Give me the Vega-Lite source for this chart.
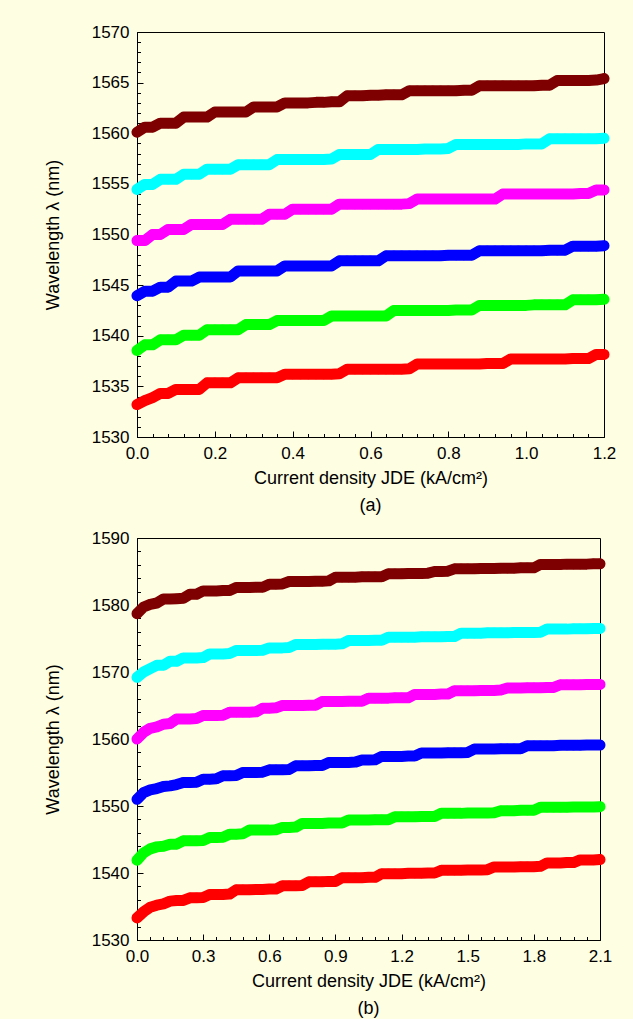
{
"$schema": "https://vega.github.io/schema/vega-lite/v6.json",
"background": "#FEFEE2",
"padding": {"left": 43, "top": 22, "right": 16, "bottom": 4},
"spacing": 12,
"config": {
  "font": "Liberation Sans",
  "view": {"stroke": "#000000", "strokeWidth": 1},
  "axis": {"labelFont": "Liberation Sans", "titleFont": "Liberation Sans", "labelFontSize": 17, "titleFontSize": 18, "titleFontWeight": "normal", "labelColor": "#000000", "titleColor": "#000000", "domainColor": "#000000", "tickColor": "#000000", "gridColor": "#B4B4B4", "gridDash": [2, 3], "gridWidth": 1, "labelFlush": false},
  "title": {"font": "Liberation Sans", "fontSize": 18, "fontWeight": "normal", "color": "#000000"}
},
"datasets": {
"a": [
{"x":0,"r":1533.2,"g":1538.55,"b":1543.95,"p":1549.4,"c":1554.45,"m":1560.1},
{"x":0.02,"r":1533.6,"g":1539.1,"b":1544.4,"p":1549.4,"c":1554.95,"m":1560.6},
{"x":0.04,"r":1533.9,"g":1539.1,"b":1544.4,"p":1550.0,"c":1554.95,"m":1560.6},
{"x":0.06,"r":1534.3,"g":1539.6,"b":1544.8,"p":1550.0,"c":1555.45,"m":1561.0},
{"x":0.08,"r":1534.3,"g":1539.6,"b":1544.8,"p":1550.5,"c":1555.45,"m":1561.0},
{"x":0.10,"r":1534.7,"g":1539.6,"b":1545.4,"p":1550.5,"c":1555.45,"m":1561.0},
{"x":0.12,"r":1534.7,"g":1540.05,"b":1545.4,"p":1550.5,"c":1555.95,"m":1561.6},
{"x":0.14,"r":1534.7,"g":1540.05,"b":1545.4,"p":1551.0,"c":1555.95,"m":1561.6},
{"x":0.16,"r":1534.7,"g":1540.05,"b":1545.8,"p":1551.0,"c":1555.95,"m":1561.6},
{"x":0.18,"r":1535.35,"g":1540.6,"b":1545.8,"p":1551.0,"c":1556.45,"m":1561.6},
{"x":0.20,"r":1535.35,"g":1540.6,"b":1545.8,"p":1551.0,"c":1556.45,"m":1562.1},
{"x":0.22,"r":1535.35,"g":1540.6,"b":1545.8,"p":1551.0,"c":1556.45,"m":1562.1},
{"x":0.24,"r":1535.35,"g":1540.6,"b":1545.8,"p":1551.5,"c":1556.45,"m":1562.1},
{"x":0.26,"r":1535.85,"g":1540.6,"b":1546.4,"p":1551.5,"c":1556.9,"m":1562.1},
{"x":0.28,"r":1535.85,"g":1541.1,"b":1546.4,"p":1551.5,"c":1556.9,"m":1562.1},
{"x":0.30,"r":1535.85,"g":1541.1,"b":1546.4,"p":1551.5,"c":1556.9,"m":1562.6},
{"x":0.32,"r":1535.85,"g":1541.1,"b":1546.4,"p":1551.5,"c":1556.9,"m":1562.6},
{"x":0.34,"r":1535.85,"g":1541.1,"b":1546.4,"p":1552.0,"c":1556.9,"m":1562.6},
{"x":0.36,"r":1535.85,"g":1541.5,"b":1546.4,"p":1552.0,"c":1557.4,"m":1562.6},
{"x":0.38,"r":1536.2,"g":1541.5,"b":1546.9,"p":1552.0,"c":1557.4,"m":1563.0},
{"x":0.40,"r":1536.2,"g":1541.5,"b":1546.9,"p":1552.5,"c":1557.4,"m":1563.0},
{"x":0.42,"r":1536.2,"g":1541.5,"b":1546.9,"p":1552.5,"c":1557.4,"m":1563.0},
{"x":0.44,"r":1536.2,"g":1541.5,"b":1546.9,"p":1552.5,"c":1557.4,"m":1563.0},
{"x":0.46,"r":1536.2,"g":1541.5,"b":1546.9,"p":1552.5,"c":1557.4,"m":1563.05},
{"x":0.48,"r":1536.2,"g":1541.5,"b":1546.9,"p":1552.5,"c":1557.4,"m":1563.05},
{"x":0.50,"r":1536.2,"g":1541.95,"b":1546.9,"p":1552.5,"c":1557.45,"m":1563.1},
{"x":0.52,"r":1536.25,"g":1541.95,"b":1547.4,"p":1553.0,"c":1557.9,"m":1563.1},
{"x":0.54,"r":1536.7,"g":1541.95,"b":1547.4,"p":1553.0,"c":1557.9,"m":1563.7},
{"x":0.56,"r":1536.7,"g":1541.95,"b":1547.4,"p":1553.0,"c":1557.9,"m":1563.7},
{"x":0.58,"r":1536.7,"g":1541.95,"b":1547.4,"p":1553.0,"c":1557.9,"m":1563.7},
{"x":0.60,"r":1536.7,"g":1541.95,"b":1547.4,"p":1553.0,"c":1557.9,"m":1563.75},
{"x":0.62,"r":1536.7,"g":1541.95,"b":1547.4,"p":1553.0,"c":1558.4,"m":1563.75},
{"x":0.64,"r":1536.7,"g":1541.95,"b":1547.9,"p":1553.0,"c":1558.4,"m":1563.8},
{"x":0.66,"r":1536.7,"g":1542.5,"b":1547.9,"p":1553.0,"c":1558.4,"m":1563.8},
{"x":0.68,"r":1536.7,"g":1542.5,"b":1547.9,"p":1553.0,"c":1558.4,"m":1563.8},
{"x":0.70,"r":1536.75,"g":1542.5,"b":1547.9,"p":1553.05,"c":1558.4,"m":1564.2},
{"x":0.72,"r":1537.2,"g":1542.5,"b":1547.9,"p":1553.5,"c":1558.4,"m":1564.2},
{"x":0.74,"r":1537.2,"g":1542.5,"b":1547.9,"p":1553.5,"c":1558.45,"m":1564.2},
{"x":0.76,"r":1537.2,"g":1542.5,"b":1547.9,"p":1553.5,"c":1558.45,"m":1564.2},
{"x":0.78,"r":1537.2,"g":1542.5,"b":1547.9,"p":1553.5,"c":1558.45,"m":1564.2},
{"x":0.80,"r":1537.2,"g":1542.5,"b":1547.95,"p":1553.5,"c":1558.5,"m":1564.2},
{"x":0.82,"r":1537.2,"g":1542.55,"b":1547.95,"p":1553.5,"c":1558.9,"m":1564.2},
{"x":0.84,"r":1537.2,"g":1542.55,"b":1547.95,"p":1553.5,"c":1558.9,"m":1564.25},
{"x":0.86,"r":1537.2,"g":1542.55,"b":1547.95,"p":1553.5,"c":1558.9,"m":1564.25},
{"x":0.88,"r":1537.2,"g":1543.0,"b":1548.4,"p":1553.5,"c":1558.9,"m":1564.7},
{"x":0.90,"r":1537.25,"g":1543.0,"b":1548.4,"p":1553.5,"c":1558.9,"m":1564.7},
{"x":0.92,"r":1537.25,"g":1543.0,"b":1548.4,"p":1553.5,"c":1558.9,"m":1564.7},
{"x":0.94,"r":1537.25,"g":1543.0,"b":1548.4,"p":1554.0,"c":1558.9,"m":1564.7},
{"x":0.96,"r":1537.7,"g":1543.0,"b":1548.4,"p":1554.0,"c":1558.9,"m":1564.7},
{"x":0.98,"r":1537.7,"g":1543.0,"b":1548.4,"p":1554.0,"c":1558.9,"m":1564.7},
{"x":1.00,"r":1537.7,"g":1543.0,"b":1548.4,"p":1554.0,"c":1558.95,"m":1564.7},
{"x":1.02,"r":1537.7,"g":1543.05,"b":1548.4,"p":1554.0,"c":1558.95,"m":1564.7},
{"x":1.04,"r":1537.7,"g":1543.05,"b":1548.4,"p":1554.0,"c":1558.95,"m":1564.75},
{"x":1.06,"r":1537.7,"g":1543.05,"b":1548.45,"p":1554.0,"c":1559.45,"m":1564.75},
{"x":1.08,"r":1537.7,"g":1543.05,"b":1548.45,"p":1554.0,"c":1559.45,"m":1565.2},
{"x":1.10,"r":1537.7,"g":1543.05,"b":1548.45,"p":1554.0,"c":1559.45,"m":1565.2},
{"x":1.12,"r":1537.75,"g":1543.55,"b":1548.85,"p":1554.0,"c":1559.45,"m":1565.2},
{"x":1.14,"r":1537.75,"g":1543.55,"b":1548.85,"p":1554.05,"c":1559.45,"m":1565.2},
{"x":1.16,"r":1537.75,"g":1543.55,"b":1548.85,"p":1554.05,"c":1559.45,"m":1565.2},
{"x":1.18,"r":1538.15,"g":1543.55,"b":1548.85,"p":1554.4,"c":1559.45,"m":1565.25},
{"x":1.20,"r":1538.15,"g":1543.6,"b":1548.9,"p":1554.4,"c":1559.5,"m":1565.4}
],
"b": [
{"x":0,"r":1533.3,"g":1541.9,"b":1551.0,"p":1560.0,"c":1569.2,"m":1578.7},
{"x":0.03,"r":1534.2,"g":1543.0,"b":1552.0,"p":1561.0,"c":1570.0,"m":1579.7},
{"x":0.06,"r":1534.9,"g":1543.6,"b":1552.4,"p":1561.6,"c":1570.5,"m":1580.1},
{"x":0.09,"r":1535.2,"g":1543.9,"b":1552.6,"p":1561.8,"c":1571.0,"m":1580.3},
{"x":0.12,"r":1535.4,"g":1544.0,"b":1552.9,"p":1562.2,"c":1571.0,"m":1580.9},
{"x":0.15,"r":1535.8,"g":1544.3,"b":1553.0,"p":1562.3,"c":1571.6,"m":1580.9},
{"x":0.18,"r":1535.9,"g":1544.3,"b":1553.2,"p":1563.0,"c":1571.6,"m":1580.95},
{"x":0.21,"r":1535.9,"g":1544.8,"b":1553.5,"p":1563.0,"c":1572.1,"m":1581.0},
{"x":0.24,"r":1536.3,"g":1544.8,"b":1553.5,"p":1563.0,"c":1572.1,"m":1581.6},
{"x":0.27,"r":1536.3,"g":1544.8,"b":1553.55,"p":1563.05,"c":1572.1,"m":1581.6},
{"x":0.30,"r":1536.35,"g":1544.85,"b":1554.0,"p":1563.5,"c":1572.15,"m":1582.1},
{"x":0.33,"r":1536.8,"g":1545.3,"b":1554.0,"p":1563.5,"c":1572.7,"m":1582.1},
{"x":0.36,"r":1536.8,"g":1545.3,"b":1554.05,"p":1563.5,"c":1572.7,"m":1582.1},
{"x":0.39,"r":1536.8,"g":1545.35,"b":1554.5,"p":1563.55,"c":1572.7,"m":1582.15},
{"x":0.42,"r":1536.85,"g":1545.8,"b":1554.5,"p":1564.0,"c":1572.75,"m":1582.15},
{"x":0.45,"r":1537.5,"g":1545.8,"b":1554.55,"p":1564.0,"c":1573.2,"m":1582.6},
{"x":0.48,"r":1537.5,"g":1545.85,"b":1555.0,"p":1564.0,"c":1573.2,"m":1582.6},
{"x":0.51,"r":1537.5,"g":1546.4,"b":1555.0,"p":1564.0,"c":1573.2,"m":1582.6},
{"x":0.54,"r":1537.55,"g":1546.4,"b":1555.0,"p":1564.05,"c":1573.2,"m":1582.65},
{"x":0.57,"r":1537.55,"g":1546.4,"b":1555.05,"p":1564.6,"c":1573.25,"m":1582.65},
{"x":0.60,"r":1537.6,"g":1546.4,"b":1555.4,"p":1564.6,"c":1573.6,"m":1583.1},
{"x":0.63,"r":1537.6,"g":1546.45,"b":1555.4,"p":1564.65,"c":1573.6,"m":1583.1},
{"x":0.66,"r":1538.1,"g":1546.8,"b":1555.4,"p":1565.0,"c":1573.6,"m":1583.15},
{"x":0.69,"r":1538.1,"g":1546.8,"b":1555.45,"p":1565.0,"c":1573.65,"m":1583.5},
{"x":0.72,"r":1538.1,"g":1546.85,"b":1556.0,"p":1565.0,"c":1574.1,"m":1583.5},
{"x":0.75,"r":1538.15,"g":1547.4,"b":1556.0,"p":1565.0,"c":1574.1,"m":1583.5},
{"x":0.78,"r":1538.7,"g":1547.4,"b":1556.0,"p":1565.05,"c":1574.1,"m":1583.5},
{"x":0.81,"r":1538.7,"g":1547.4,"b":1556.05,"p":1565.05,"c":1574.1,"m":1583.55},
{"x":0.84,"r":1538.7,"g":1547.4,"b":1556.05,"p":1565.6,"c":1574.15,"m":1583.55},
{"x":0.87,"r":1538.75,"g":1547.45,"b":1556.5,"p":1565.6,"c":1574.15,"m":1583.6},
{"x":0.90,"r":1538.75,"g":1547.45,"b":1556.5,"p":1565.6,"c":1574.15,"m":1584.15},
{"x":0.93,"r":1539.3,"g":1547.45,"b":1556.5,"p":1565.6,"c":1574.2,"m":1584.15},
{"x":0.96,"r":1539.3,"g":1547.9,"b":1556.5,"p":1565.65,"c":1574.7,"m":1584.15},
{"x":0.99,"r":1539.3,"g":1547.9,"b":1556.55,"p":1565.65,"c":1574.7,"m":1584.15},
{"x":1.02,"r":1539.3,"g":1547.9,"b":1556.85,"p":1565.65,"c":1574.7,"m":1584.2},
{"x":1.05,"r":1539.35,"g":1547.9,"b":1556.85,"p":1566.1,"c":1574.7,"m":1584.2},
{"x":1.08,"r":1539.35,"g":1547.95,"b":1556.9,"p":1566.1,"c":1574.75,"m":1584.2},
{"x":1.11,"r":1539.9,"g":1547.95,"b":1557.4,"p":1566.1,"c":1574.75,"m":1584.2},
{"x":1.14,"r":1539.9,"g":1547.95,"b":1557.4,"p":1566.1,"c":1575.2,"m":1584.65},
{"x":1.17,"r":1539.9,"g":1548.4,"b":1557.4,"p":1566.15,"c":1575.2,"m":1584.65},
{"x":1.20,"r":1539.9,"g":1548.4,"b":1557.4,"p":1566.15,"c":1575.2,"m":1584.65},
{"x":1.23,"r":1539.95,"g":1548.4,"b":1557.45,"p":1566.15,"c":1575.2,"m":1584.7},
{"x":1.26,"r":1539.95,"g":1548.4,"b":1557.45,"p":1566.65,"c":1575.2,"m":1584.7},
{"x":1.29,"r":1539.95,"g":1548.45,"b":1557.9,"p":1566.65,"c":1575.25,"m":1584.7},
{"x":1.32,"r":1540.0,"g":1548.45,"b":1557.9,"p":1566.65,"c":1575.25,"m":1584.75},
{"x":1.35,"r":1540.0,"g":1548.45,"b":1557.9,"p":1566.65,"c":1575.25,"m":1585.0},
{"x":1.38,"r":1540.4,"g":1548.9,"b":1557.9,"p":1566.7,"c":1575.25,"m":1585.0},
{"x":1.41,"r":1540.4,"g":1548.9,"b":1557.95,"p":1566.7,"c":1575.3,"m":1585.05},
{"x":1.44,"r":1540.4,"g":1548.9,"b":1557.95,"p":1567.2,"c":1575.3,"m":1585.4},
{"x":1.47,"r":1540.4,"g":1548.9,"b":1557.95,"p":1567.2,"c":1575.8,"m":1585.4},
{"x":1.50,"r":1540.45,"g":1548.95,"b":1558.0,"p":1567.2,"c":1575.8,"m":1585.4},
{"x":1.53,"r":1540.45,"g":1548.95,"b":1558.5,"p":1567.2,"c":1575.8,"m":1585.4},
{"x":1.56,"r":1540.45,"g":1548.95,"b":1558.5,"p":1567.25,"c":1575.8,"m":1585.45},
{"x":1.59,"r":1540.5,"g":1548.95,"b":1558.5,"p":1567.25,"c":1575.85,"m":1585.45},
{"x":1.62,"r":1540.9,"g":1549.0,"b":1558.5,"p":1567.25,"c":1575.85,"m":1585.45},
{"x":1.65,"r":1540.9,"g":1549.3,"b":1558.55,"p":1567.3,"c":1575.85,"m":1585.5},
{"x":1.68,"r":1540.9,"g":1549.3,"b":1558.55,"p":1567.6,"c":1575.85,"m":1585.5},
{"x":1.71,"r":1540.9,"g":1549.3,"b":1558.55,"p":1567.6,"c":1575.9,"m":1585.5},
{"x":1.74,"r":1540.95,"g":1549.35,"b":1558.55,"p":1567.6,"c":1575.9,"m":1585.55},
{"x":1.77,"r":1540.95,"g":1549.35,"b":1559.0,"p":1567.65,"c":1575.9,"m":1585.55},
{"x":1.80,"r":1540.95,"g":1549.35,"b":1559.0,"p":1567.65,"c":1575.9,"m":1585.55},
{"x":1.83,"r":1541.0,"g":1549.8,"b":1559.0,"p":1567.65,"c":1575.95,"m":1586.05},
{"x":1.86,"r":1541.5,"g":1549.8,"b":1559.0,"p":1567.7,"c":1576.4,"m":1586.05},
{"x":1.89,"r":1541.5,"g":1549.8,"b":1559.0,"p":1567.7,"c":1576.4,"m":1586.05},
{"x":1.92,"r":1541.5,"g":1549.8,"b":1559.05,"p":1568.1,"c":1576.4,"m":1586.05},
{"x":1.95,"r":1541.55,"g":1549.8,"b":1559.05,"p":1568.1,"c":1576.4,"m":1586.1},
{"x":1.98,"r":1541.55,"g":1549.85,"b":1559.05,"p":1568.1,"c":1576.45,"m":1586.1},
{"x":2.01,"r":1541.95,"g":1549.85,"b":1559.05,"p":1568.1,"c":1576.45,"m":1586.1},
{"x":2.04,"r":1541.95,"g":1549.85,"b":1559.1,"p":1568.15,"c":1576.45,"m":1586.1},
{"x":2.07,"r":1541.95,"g":1549.85,"b":1559.1,"p":1568.15,"c":1576.5,"m":1586.15},
{"x":2.10,"r":1542.0,"g":1549.9,"b":1559.1,"p":1568.15,"c":1576.5,"m":1586.15}
]
},
"vconcat": [
{
  "width": 467, "height": 405,
  "title": {"text": "(a)", "orient": "bottom", "frame": "group", "offset": 10},
  "data": {"name": "a"},
  "transform": [{"fold": ["r", "g", "b", "p", "c", "m"], "as": ["s", "w"]}],
  "layer": [
    {
      "mark": {"type": "line", "strokeWidth": 11, "strokeCap": "round", "strokeJoin": "round"},
      "encoding": {
        "x": {"field": "x", "type": "quantitative", "scale": {"domain": [0, 1.2], "nice": false, "zero": false}, "axis": null},
        "y": {"field": "w", "type": "quantitative", "scale": {"domain": [1530, 1570], "nice": false, "zero": false}, "axis": null},
        "color": {"field": "s", "type": "nominal", "scale": {"domain": ["r", "g", "b", "p", "c", "m"], "range": ["#FF0000", "#00FF00", "#0000FF", "#FF00FF", "#00FFFF", "#7F0000"]}, "legend": null}
      }
    },
    {
      "mark": {"type": "point", "filled": true, "opacity": 1, "size": 100},
      "encoding": {
        "x": {"field": "x", "type": "quantitative", "scale": {"domain": [0, 1.2], "nice": false, "zero": false},
              "axis": {"orient": "bottom", "values": [0, 0.2, 0.4, 0.6, 0.8, 1.0, 1.2], "format": ".1f", "title": "Current density JDE (kA/cm²)", "tickSize": -6, "labelPadding": 14, "titlePadding": 8}},
        "y": {"field": "w", "type": "quantitative", "scale": {"domain": [1530, 1570], "nice": false, "zero": false},
              "axis": {"orient": "left", "values": [1530, 1535, 1540, 1545, 1550, 1555, 1560, 1565, 1570], "format": "d", "title": "Wavelength λ (nm)", "tickSize": -6, "labelPadding": 14, "titlePadding": 29}},
        "color": {"field": "s", "type": "nominal", "scale": {"domain": ["r", "g", "b", "p", "c", "m"], "range": ["#FF0000", "#00FF00", "#0000FF", "#FF00FF", "#00FFFF", "#7F0000"]}, "legend": null}
      }
    },
    {
      "mark": {"type": "point", "opacity": 0},
      "encoding": {
        "x": {"field": "x", "type": "quantitative", "scale": {"domain": [0, 1.2], "nice": false, "zero": false},
              "axis": {"orient": "bottom", "values": [0.04, 0.08, 0.12, 0.16, 0.24, 0.28, 0.32, 0.36, 0.44, 0.48, 0.52, 0.56, 0.64, 0.68, 0.72, 0.76, 0.84, 0.88, 0.92, 0.96, 1.04, 1.08, 1.12, 1.16], "labels": false, "grid": false, "domain": false, "tickSize": -3.5, "title": null}},
        "y": {"field": "w", "type": "quantitative", "scale": {"domain": [1530, 1570], "nice": false, "zero": false},
              "axis": {"orient": "left", "values": [1531, 1532, 1533, 1534, 1536, 1537, 1538, 1539, 1541, 1542, 1543, 1544, 1546, 1547, 1548, 1549, 1551, 1552, 1553, 1554, 1556, 1557, 1558, 1559, 1561, 1562, 1563, 1564, 1566, 1567, 1568, 1569], "labels": false, "grid": false, "domain": false, "tickSize": -3.5, "title": null}}
      }
    }
  ],
  "resolve": {"axis": {"x": "independent", "y": "independent"}}
},
{
  "width": 463, "height": 402,
  "title": {"text": "(b)", "orient": "bottom", "frame": "group", "offset": 10},
  "data": {"name": "b"},
  "transform": [{"fold": ["r", "g", "b", "p", "c", "m"], "as": ["s", "w"]}],
  "layer": [
    {
      "mark": {"type": "line", "strokeWidth": 11, "strokeCap": "round", "strokeJoin": "round"},
      "encoding": {
        "x": {"field": "x", "type": "quantitative", "scale": {"domain": [0, 2.1], "nice": false, "zero": false}, "axis": null},
        "y": {"field": "w", "type": "quantitative", "scale": {"domain": [1530, 1590], "nice": false, "zero": false}, "axis": null},
        "color": {"field": "s", "type": "nominal", "scale": {"domain": ["r", "g", "b", "p", "c", "m"], "range": ["#FF0000", "#00FF00", "#0000FF", "#FF00FF", "#00FFFF", "#7F0000"]}, "legend": null}
      }
    },
    {
      "mark": {"type": "point", "filled": true, "opacity": 1, "size": 100},
      "encoding": {
        "x": {"field": "x", "type": "quantitative", "scale": {"domain": [0, 2.1], "nice": false, "zero": false},
              "axis": {"orient": "bottom", "values": [0, 0.3, 0.6, 0.9, 1.2, 1.5, 1.8, 2.1], "format": ".1f", "title": "Current density JDE (kA/cm²)", "tickSize": -6, "labelPadding": 14, "titlePadding": 8}},
        "y": {"field": "w", "type": "quantitative", "scale": {"domain": [1530, 1590], "nice": false, "zero": false},
              "axis": {"orient": "left", "values": [1530, 1540, 1550, 1560, 1570, 1580, 1590], "format": "d", "title": "Wavelength λ (nm)", "tickSize": -6, "labelPadding": 14, "titlePadding": 29}},
        "color": {"field": "s", "type": "nominal", "scale": {"domain": ["r", "g", "b", "p", "c", "m"], "range": ["#FF0000", "#00FF00", "#0000FF", "#FF00FF", "#00FFFF", "#7F0000"]}, "legend": null}
      }
    },
    {
      "mark": {"type": "point", "opacity": 0},
      "encoding": {
        "x": {"field": "x", "type": "quantitative", "scale": {"domain": [0, 2.1], "nice": false, "zero": false},
              "axis": {"orient": "bottom", "values": [0.06, 0.12, 0.18, 0.24, 0.36, 0.42, 0.48, 0.54, 0.66, 0.72, 0.78, 0.84, 0.96, 1.02, 1.08, 1.14, 1.26, 1.32, 1.38, 1.44, 1.56, 1.62, 1.68, 1.74, 1.86, 1.92, 1.98, 2.04], "labels": false, "grid": false, "domain": false, "tickSize": -3.5, "title": null}},
        "y": {"field": "w", "type": "quantitative", "scale": {"domain": [1530, 1590], "nice": false, "zero": false},
              "axis": {"orient": "left", "values": [1532, 1534, 1536, 1538, 1542, 1544, 1546, 1548, 1552, 1554, 1556, 1558, 1562, 1564, 1566, 1568, 1572, 1574, 1576, 1578, 1582, 1584, 1586, 1588], "labels": false, "grid": false, "domain": false, "tickSize": -3.5, "title": null}}
      }
    }
  ],
  "resolve": {"axis": {"x": "independent", "y": "independent"}}
}
]
}
